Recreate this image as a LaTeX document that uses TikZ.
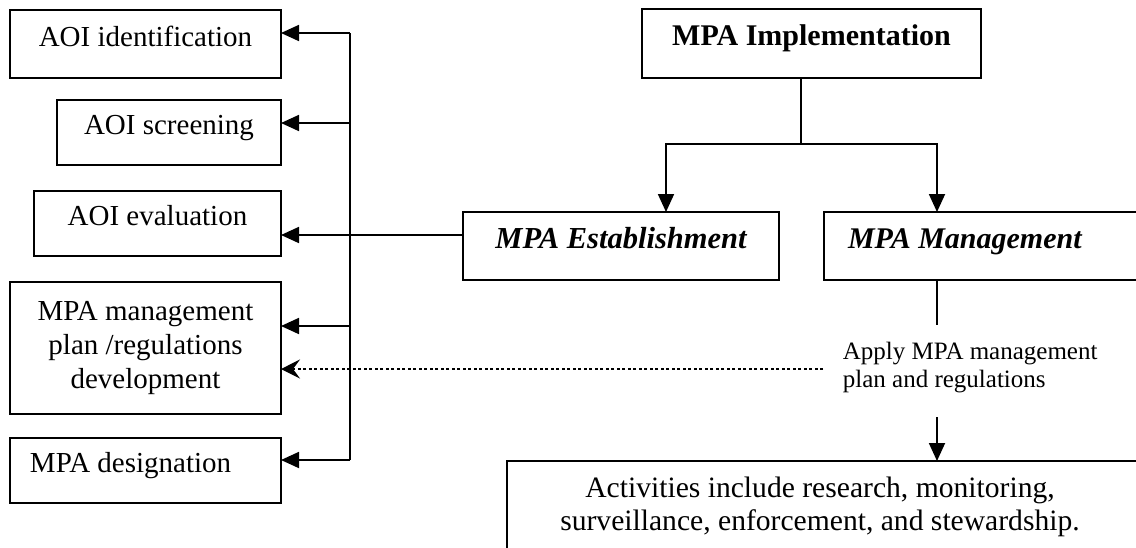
\documentclass[tikz,border=0pt]{standalone}
\usepackage{fontspec}
\setmainfont{Liberation Serif}
\usetikzlibrary{arrows.meta,calc}

\begin{document}
\begin{tikzpicture}[x=1pt,y=-1pt, line width=1.8pt,
  box/.style={draw, inner sep=0pt, outer sep=0pt},
  oneline/.style={text height=0.7em, text depth=0.3em},
  lbl/.style={font=\fontsize{29}{34}\selectfont},
  arr/.style={-{Triangle[length=18pt,width=16pt]}},
  dotarr/.style={-{Stealth[length=19pt,width=19pt,inset=7pt]}, line width=1.5pt,
                 dash pattern=on 3pt off 2.5pt}]
  \useasboundingbox (0,0) rectangle (1136,547);
  \clip (0,0) rectangle (1136,547);
  \fill[white] (0,0) rectangle (1136,547);

  % activity steps on the left
  \node[box, lbl, oneline, minimum width=271pt, minimum height=68pt] (ident) at (145.5,44) {AOI identification};
  \node[box, lbl, oneline, minimum width=224pt, minimum height=65pt] (screen) at (169,132.5) {AOI screening};
  \node[box, lbl, oneline, minimum width=247pt, minimum height=65pt] (eval) at (157.5,223.5) {AOI evaluation};
  \node[box, lbl, align=center, minimum width=271pt, minimum height=132pt] (plan) at (145.5,348)
       {MPA management\\plan /regulations\\development};
  \node[box, lbl, oneline, minimum width=271pt, minimum height=65pt, text width=231pt,
        align=flush left, inner xsep=20pt] (desig) at (145.5,470.5) {MPA designation};

  % hierarchy on the right
  \node[box, oneline, font=\fontsize{30}{34}\selectfont\bfseries,
        minimum width=339pt, minimum height=69pt] (impl) at (811.5,43.5) {MPA Implementation};
  \node[box, oneline, font=\fontsize{30.5}{34}\selectfont\bfseries\itshape,
        minimum width=316pt, minimum height=68pt] (estab) at (621,246) {MPA Establishment};
  \node[box, oneline, font=\fontsize{30}{34}\selectfont\bfseries\itshape,
        minimum width=336pt, minimum height=68pt, text width=288pt, align=flush left,
        inner xsep=24pt] (mgmt) at (992,246) {MPA Management};

  \node[anchor=north west, inner sep=0pt, align=left,
        font=\fontsize{25}{28}\selectfont] (apply) at (842,341)
       {Apply MPA management\\plan and regulations};

  \node[box, minimum width=653pt, minimum height=119pt] (actbox) at (833.5,520.5) {};
  \node[anchor=north, inner sep=0pt, align=center,
        font=\fontsize{29.6}{33}\selectfont] (act) at (820,476)
       {Activities include research, monitoring,\\surveillance, enforcement, and stewardship.};

  % branching below the implementation box
  \coordinate (split) at (801,144);
  \draw (split |- impl.south) -- (split);
  \draw[arr] (split) -| ([xshift=45pt]estab.north);
  \coordinate (mx) at (937,0);
  \draw[arr] (split) -| (mx |- mgmt.north);

  % management chain
  \coordinate (m1) at (937,325);
  \coordinate (m2) at (937,417);
  \draw (mx |- mgmt.south) -- (m1);
  \draw[arr] (m2) -- (m2 |- actbox.north);

  % bus feeding the left-hand steps
  \coordinate (b1) at (350,33);
  \coordinate (b2) at (350,123);
  \coordinate (b4) at (350,326);
  \coordinate (b5) at (350,460);
  \draw (b1) -- (b5);
  \draw[arr] (b1) -- (b1 -| ident.east);
  \draw[arr] (b2) -- (b2 -| screen.east);
  \draw[arr] (b4) -- (b4 -| plan.east);
  \draw[arr] (b5) -- (b5 -| desig.east);
  \draw[arr] ([yshift=11pt]estab.west) -- ([yshift=11pt]estab.west -| eval.east);

  % dotted feedback from management
  \coordinate (d0) at (823,369);
  \draw[dotarr] (d0) -- (d0 -| plan.east);
\end{tikzpicture}
\end{document}
